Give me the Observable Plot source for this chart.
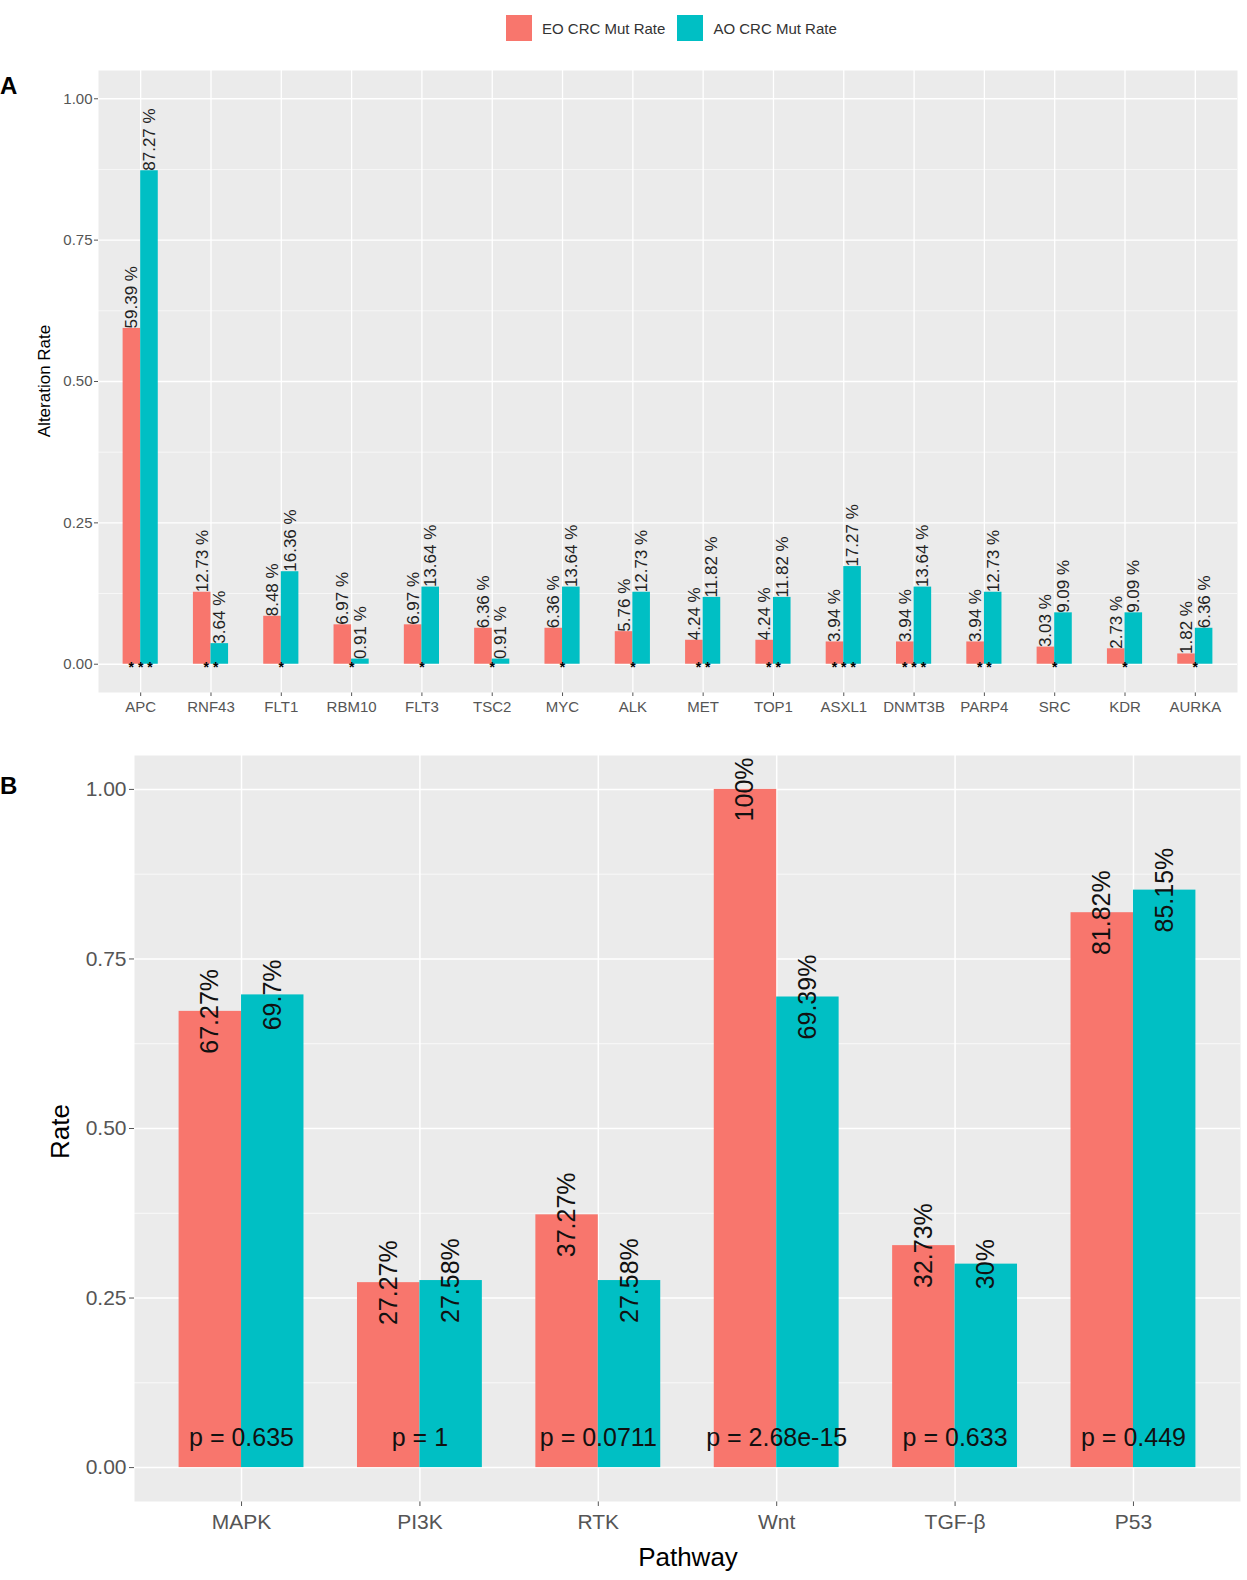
<!DOCTYPE html>
<html>
<head>
<meta charset="utf-8">
<script src="https://cdn.jsdelivr.net/npm/d3@7"></script>
<script src="https://cdn.jsdelivr.net/npm/@observablehq/plot@0.6"></script>
<style>
  html, body { margin: 0; padding: 0; background: #fff; overflow: hidden; }
  #wrap { position: relative; width: 1247px; height: 1580px; overflow: hidden; font-family: "Liberation Sans", Arial, sans-serif; }
  .abs { position: absolute; }
  .panel { position: absolute; left: 0; }
  .panel svg { display: block; }
  .tag { font-weight: bold; font-size: 24px; color: #000; }
  .legend { position: absolute; top: 15px; left: 506px; display: flex; align-items: center; font-size: 15px; color: #333; }
  .legend .sw { width: 26px; height: 26px; display: inline-block; }
  .legend .lab { margin: 0 12px 0 10px; }
  .ytitle { transform-origin: center; transform: rotate(-90deg); white-space: nowrap; color: #000; }
</style>
</head>
<body>
<div id="wrap">
  <div class="legend">
    <span class="sw" style="background:#F8766D"></span><span class="lab">EO CRC Mut Rate</span>
    <span class="sw" style="background:#00BFC4"></span><span class="lab">AO CRC Mut Rate</span>
  </div>
  <div class="abs tag" style="left:0px;top:72px;">A</div>
  <div class="abs tag" style="left:0px;top:772px;">B</div>
  <div id="pA" class="panel" style="top:60px;"></div>
  <div id="pB" class="panel" style="top:738px;"></div>
  <div class="abs ytitle" style="left:-20px;top:371px;width:130px;text-align:center;font-size:17px;">Alteration Rate</div>
  <div class="abs ytitle" style="left:20px;top:1116px;width:80px;text-align:center;font-size:26px;">Rate</div>
  <div class="abs" style="left:588px;top:1542px;width:200px;text-align:center;font-size:26px;color:#000;">Pathway</div>
</div>
<script>
// ---------- Panel A data ----------
const genes = ["APC","RNF43","FLT1","RBM10","FLT3","TSC2","MYC","ALK","MET","TOP1","ASXL1","DNMT3B","PARP4","SRC","KDR","AURKA"];
const eoGeneRate = [0.5939,0.1273,0.0848,0.0697,0.0697,0.0636,0.0636,0.0576,0.0424,0.0424,0.0394,0.0394,0.0394,0.0303,0.0273,0.0182];
const aoGeneRate = [0.8727,0.0364,0.1636,0.0091,0.1364,0.0091,0.1364,0.1273,0.1182,0.1182,0.1727,0.1364,0.1273,0.0909,0.0909,0.0636];
const geneStars = [3,2,1,1,1,1,1,1,2,2,3,3,2,1,1,1];
const yTicks = [0, 0.25, 0.5, 0.75, 1];
const yMinor = [0.125, 0.375, 0.625, 0.875];

// ---------- Panel B data ----------
const pathways = ["MAPK","PI3K","RTK","Wnt","TGF-β","P53"];
const eoPathRate = [0.6727,0.2727,0.3727,1.0,0.3273,0.8182];
const aoPathRate = [0.697,0.2758,0.2758,0.6939,0.30,0.8515];
const pValues = ["0.635","1","0.0711","2.68e-15","0.633","0.449"];

const RED = "#F8766D", CYAN = "#00BFC4", PANEL = "#EBEBEB";
const fmt2 = d3.format(".2f");

// ---------- Panel A ----------
(function(){
  const W = 1247, mL = 98, mR = 10, mT = 10, mB = 33, H = 665;
  const n = genes.length, pInner = 0.5, pOuter = 0.35;
  const step = (W - mL - mR) / (n - pInner + 2 * pOuter);
  const bw = step * (1 - pInner);
  const eo = genes.map((g, i) => ({gene: g, v: eoGeneRate[i]}));
  const ao = genes.map((g, i) => ({gene: g, v: aoGeneRate[i]}));
  const st = genes.map((g, i) => ({gene: g, s: Array(geneStars[i]).fill("*").join(" ")}));
  const lab = v => fmt2(v * 100) + " %";
  const chart = Plot.plot({
    width: W, height: H, marginLeft: mL, marginRight: mR, marginTop: mT, marginBottom: mB,
    style: {fontSize: "15px", fontFamily: "Liberation Sans, Arial, sans-serif", color: "#555", background: "transparent"},
    x: {domain: genes, paddingInner: pInner, paddingOuter: pOuter, round: false, label: null, tickSize: 4, tickPadding: 5},
    y: {domain: [-0.05, 1.05], ticks: yTicks, tickFormat: fmt2, label: null, tickSize: 4, tickPadding: 2},
    marks: [
      Plot.frame({fill: PANEL, stroke: "none"}),
      Plot.ruleY(yMinor, {stroke: "white", strokeWidth: 0.6}),
      Plot.ruleY(yTicks, {stroke: "white", strokeWidth: 1.3}),
      Plot.ruleX(genes, {x: d => d, stroke: "white", strokeWidth: 1.3}),
      Plot.barY(eo, {x: "gene", y: "v", fill: RED, insetRight: bw / 2}),
      Plot.barY(ao, {x: "gene", y: "v", fill: CYAN, insetLeft: bw / 2}),
      Plot.text(eo, {x: "gene", y: "v", text: d => lab(d.v), rotate: -90, textAnchor: "start", lineAnchor: "middle", dx: -bw / 4, fontSize: 17, fill: "#222"}),
      Plot.text(ao, {x: "gene", y: "v", text: d => lab(d.v), rotate: -90, textAnchor: "start", lineAnchor: "middle", dx: bw / 4, fontSize: 17, fill: "#222"}),
      Plot.text(st, {x: "gene", y: 0, text: "s", fontSize: 14, fontWeight: "bold", fill: "#000", lineAnchor: "middle", dy: 3})
    ]
  });
  document.getElementById("pA").appendChild(chart);
})();

// ---------- Panel B ----------
(function(){
  const W = 1247, mL = 134, mR = 7, mT = 17, mB = 79, H = 842;
  const n = pathways.length, pInner = 0.3, pOuter = 0.25;
  const step = (W - mL - mR) / (n - pInner + 2 * pOuter);
  const bw = step * (1 - pInner);
  const eo = pathways.map((g, i) => ({p: g, v: eoPathRate[i]}));
  const ao = pathways.map((g, i) => ({p: g, v: aoPathRate[i]}));
  const pv = pathways.map((g, i) => ({p: g, t: "p = " + pValues[i]}));
  const lab = v => (+(v * 100).toFixed(2)) + "%";
  const chart = Plot.plot({
    width: W, height: H, marginLeft: mL, marginRight: mR, marginTop: mT, marginBottom: mB,
    style: {fontSize: "21px", fontFamily: "Liberation Sans, Arial, sans-serif", color: "#555", background: "transparent"},
    x: {domain: pathways, paddingInner: pInner, paddingOuter: pOuter, round: false, label: null, tickSize: 5, tickPadding: 8},
    y: {domain: [-0.05, 1.05], ticks: yTicks, tickFormat: fmt2, label: null, tickSize: 5, tickPadding: 3},
    marks: [
      Plot.frame({fill: PANEL, stroke: "none"}),
      Plot.ruleY(yMinor, {stroke: "white", strokeWidth: 0.7}),
      Plot.ruleY(yTicks, {stroke: "white", strokeWidth: 1.5}),
      Plot.ruleX(pathways, {x: d => d, stroke: "white", strokeWidth: 1.5}),
      Plot.barY(eo, {x: "p", y: "v", fill: RED, insetRight: bw / 2}),
      Plot.barY(ao, {x: "p", y: "v", fill: CYAN, insetLeft: bw / 2}),
      Plot.text(eo, {x: "p", y: "v", text: d => lab(d.v), rotate: -90, textAnchor: "middle", lineAnchor: "middle", dx: -bw / 4, fontSize: 25, fill: "#111"}),
      Plot.text(ao, {x: "p", y: "v", text: d => lab(d.v), rotate: -90, textAnchor: "middle", lineAnchor: "middle", dx: bw / 4, fontSize: 25, fill: "#111"}),
      Plot.text(pv, {x: "p", y: 0.043, text: "t", fontSize: 25, fill: "#111", lineAnchor: "middle"})
    ]
  });
  document.getElementById("pB").appendChild(chart);
})();
</script>
</body>
</html>
